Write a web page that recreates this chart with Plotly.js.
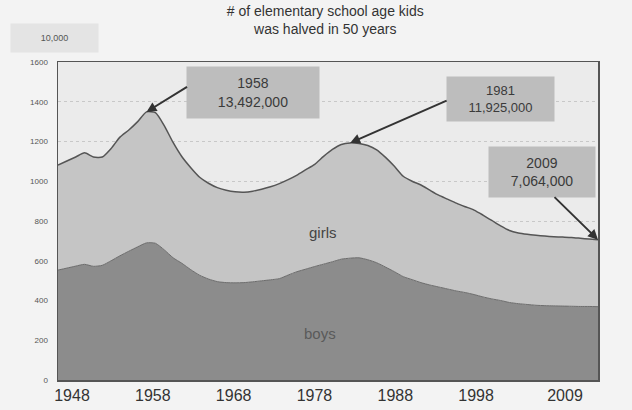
<!DOCTYPE html>
<html>
<head>
<meta charset="utf-8">
<script src="https://cdn.plot.ly/plotly-3.0.1.min.js"></script>
<style>html,body{margin:0;padding:0;background:#f3f3f3;}#chart{width:632px;height:410px;}</style>
</head>
<body>
<div id="chart"></div>
<script>
// Units: 10,000 children
const years = [];
for (let y = 1948; y <= 2009; y++) years.push(y);

const totalKids = [1081,1102,1122,1143,1122,1122,1165,1222,1258,1300,
  1349,1345,1280,1195,1123,1068,1020,990,968,955,
  947,945,950,960,972,988,1008,1031,1058,1085,
  1125,1160,1185,1193,1190,1180,1158,1120,1075,1025,
  1000,981,955,930,910,890,872,855,830,803,
  775,752,740,733,728,724,721,719,717,713,
  709,706];

const boys = [553,563,573,582,572,577,600,625,648,670,
  690,688,655,615,587,555,527,508,495,490,
  489,490,494,499,504,510,528,545,558,571,
  583,595,608,613,615,605,590,568,545,520,
  505,490,478,468,458,448,440,430,418,408,
  400,390,384,380,376,374,373,372,371,370,
  370,369];

const tickYears = [1948, 1958, 1968, 1978, 1988, 1998, 2009];
const yTicks = [0, 200, 400, 600, 800, 1000, 1200, 1400, 1600];

const callouts = [
  {year: 1958, label: "1958<br>13,492,000"},
  {year: 1981, label: "1981<br>11,925,000"},
  {year: 2009, label: "2009<br>7,064,000"}
];

const valueAt = yr => totalKids[years.indexOf(yr)];

const traces = [
  {x: years, y: boys, type: 'scatter', mode: 'lines', fill: 'tozeroy',
   fillcolor: '#8c8c8c', line: {color: '#6c6c6c', width: 1, shape: 'spline', smoothing: 0.6},
   hoverinfo: 'skip', showlegend: false},
  {x: years, y: totalKids, type: 'scatter', mode: 'lines', fill: 'tonexty',
   fillcolor: '#c5c5c5', line: {color: '#555555', width: 1.5, shape: 'spline', smoothing: 0.6},
   hoverinfo: 'skip', showlegend: false},
  {x: tickYears, y: tickYears.map(() => null), xaxis: 'x2', type: 'scatter', mode: 'lines',
   hoverinfo: 'skip', showlegend: false}
];

const boxPos = [
  {x: 0.361, y: 0.904, w: 130, h: 49, size: 14, ax: 42, ay: -26},
  {x: 0.819, y: 0.884, w: 105, h: 42, size: 13, ax: 98, ay: -43},
  {x: 0.896, y: 0.654, w: 104, h: 48, size: 14, ax: -45, ay: -44}
];

const annotations = [];
callouts.forEach((c, i) => {
  const p = boxPos[i];
  annotations.push({
    xref: 'paper', yref: 'paper', x: p.x, y: p.y, xanchor: 'center', yanchor: 'middle',
    text: c.label, showarrow: false,
    width: p.w, height: p.h, bgcolor: '#bdbdbd', font: {family: 'Liberation Sans, Arial', size: p.size, color: '#3a3a3a'},
    align: 'center', valign: 'middle'
  });
  annotations.push({
    x: c.year, y: valueAt(c.year), xref: 'x', yref: 'y', text: '', showarrow: true,
    ax: p.ax, ay: p.ay, arrowhead: 2, arrowsize: 1, arrowwidth: 2, arrowcolor: '#333333', standoff: 0
  });
});

annotations.push({x: 1977.9, y: 744, xref: 'x', yref: 'y', text: 'girls', showarrow: false,
  font: {family: 'Liberation Sans, Arial', size: 15, color: '#444444'}});
annotations.push({x: 1977.6, y: 236, xref: 'x', yref: 'y', text: 'boys', showarrow: false,
  font: {family: 'Liberation Sans, Arial', size: 15, color: '#5a5a5a'}});
annotations.push({xref: 'paper', yref: 'paper', x: -0.0056, y: 1.075, xanchor: 'center', yanchor: 'middle',
  text: '10,000', showarrow: false,
  width: 85, height: 26, bgcolor: '#e4e4e4', font: {family: 'Liberation Sans, Arial', size: 9, color: '#555555'}});

const layout = {
  width: 632, height: 410,
  margin: {l: 58, r: 34, t: 62, b: 30, pad: 0},
  paper_bgcolor: '#f3f3f3',
  plot_bgcolor: '#ebebeb',
  title: {
    text: '# of elementary school age kids<br>was halved in 50 years',
    font: {family: 'Liberation Sans, Arial', size: 14, color: '#333333'},
    xref: 'paper', x: 0.495, xanchor: 'center',
    yref: 'container', y: 0.962, yanchor: 'middle'
  },
  xaxis: {
    range: [1948, 2009], showticklabels: false, showgrid: false, zeroline: false,
    showline: true, mirror: true, linecolor: '#555555', linewidth: 1.5, ticks: ''
  },
  xaxis2: {
    overlaying: 'x', anchor: 'y', side: 'bottom', range: [1946.27, 2013.08],
    tickvals: tickYears, ticktext: tickYears.map(String), showgrid: false, zeroline: false,
    showline: false, ticks: '', ticklabelstandoff: 4,
    tickfont: {family: 'Liberation Sans, Arial', size: 16, color: '#333333'}
  },
  yaxis: {
    range: [0, 1600], tickvals: yTicks, ticktext: yTicks.map(String), ticks: '',
    ticklabelstandoff: 7,
    tickfont: {family: 'Liberation Sans, Arial', size: 8, color: '#555555'},
    showgrid: true, gridcolor: '#c8c8c8', griddash: 'dot', gridwidth: 1, zeroline: false,
    showline: true, mirror: true, linecolor: '#555555', linewidth: 1.5
  },
  annotations: annotations,
  showlegend: false
};

Plotly.newPlot('chart', traces, layout, {staticPlot: true, displayModeBar: false});
</script>
</body>
</html>
